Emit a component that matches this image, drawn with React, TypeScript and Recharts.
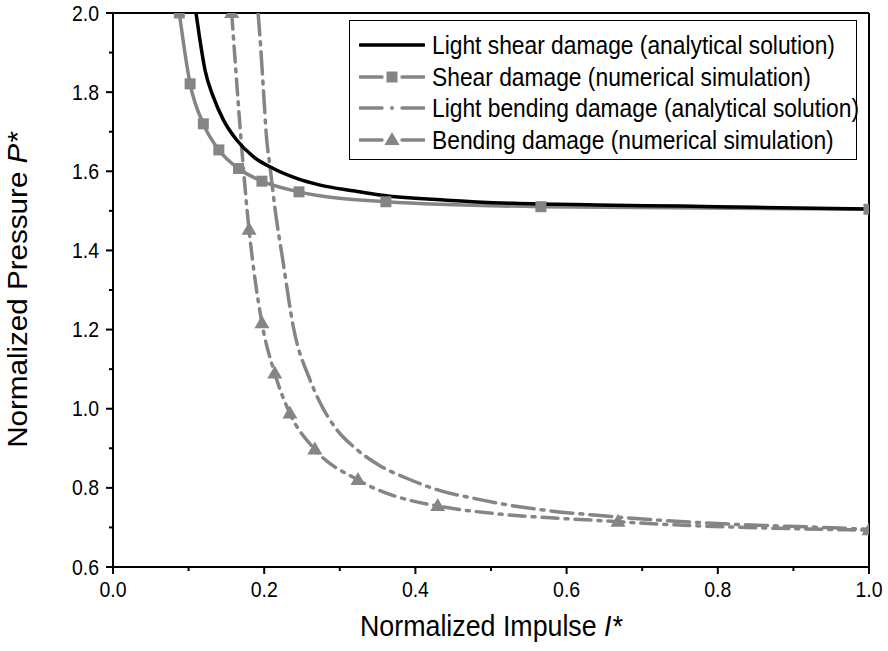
import React from 'react';
import { LineChart, Line, XAxis, YAxis, ReferenceLine } from 'recharts';

// ---- data ----
const shearAnalyticalI = [0.1098, 0.115, 0.1217, 0.1327, 0.146, 0.1636, 0.1856, 0.212, 0.243, 0.274, 0.32, 0.353, 0.441, 0.53, 0.64, 0.75, 0.85, 1.0];
const shearAnalyticalP = [2.0, 1.932, 1.856, 1.788, 1.73, 1.679, 1.637, 1.607, 1.582, 1.565, 1.55, 1.54, 1.527, 1.519, 1.515, 1.512, 1.509, 1.505];

const shearNumericalI = [0.0877, 0.102, 0.1195, 0.14, 0.166, 0.197, 0.246, 0.361, 0.566, 1.0];
const shearNumericalP = [2.0, 1.821, 1.72, 1.654, 1.607, 1.575, 1.548, 1.523, 1.5105, 1.504];

const bendingAnalyticalI = [0.192, 0.195, 0.199, 0.203, 0.2077, 0.214, 0.2253, 0.2385, 0.2606, 0.274, 0.296, 0.32, 0.353, 0.39, 0.4325, 0.476, 0.525, 0.578, 0.644, 0.71, 0.82, 0.952, 1.0];
const bendingAnalyticalP = [2.0, 1.923, 1.805, 1.687, 1.612, 1.51, 1.367, 1.207, 1.073, 1.015, 0.947, 0.901, 0.856, 0.823, 0.793, 0.774, 0.756, 0.742, 0.73, 0.72, 0.708, 0.699, 0.695];

const bendingNumericalI = [0.157, 0.18, 0.197, 0.214, 0.234, 0.267, 0.324, 0.4295, 0.668, 1.0];
const bendingNumericalP = [2.0, 1.452, 1.216, 1.089, 0.988, 0.897, 0.82, 0.754, 0.7144, 0.693];

const xTicks = [0, 0.1, 0.2, 0.3, 0.4, 0.5, 0.6, 0.7, 0.8, 0.9, 1.0];
const yTicks = [0.6, 0.7, 0.8, 0.9, 1.0, 1.1, 1.2, 1.3, 1.4, 1.5, 1.6, 1.7, 1.8, 1.9, 2.0];

const legendLabels = [
  'Light shear damage (analytical solution)',
  'Shear damage (numerical simulation)',
  'Light bending damage (analytical solution)',
  'Bending damage (numerical simulation)',
];

const xTitle = 'Normalized Impulse ';
const xTitleSym = 'I*';
const yTitle = 'Normalized Pressure ';
const yTitleSym = 'P*';

// ---- helpers ----
const toRows = (xs: number[], ys: number[]) => xs.map((I, i) => ({ I, P: ys[i] }));

const shearAnalytical = toRows(shearAnalyticalI, shearAnalyticalP);
const shearNumerical = toRows(shearNumericalI, shearNumericalP);
const bendingAnalytical = toRows(bendingAnalyticalI, bendingAnalyticalP);
const bendingNumerical = toRows(bendingNumericalI, bendingNumericalP);

const FONT = '"Liberation Sans", Arial, sans-serif';
const GRAY = '#858585';
const DASHDOT = '22 7 3 7';
const SX = 0.905; // horizontal condensing of the reference's lettering

const isMajor = (v: number) => Math.round(v * 10) % 2 === 0;

const XTick = (props: any) => {
  const { x, y, payload } = props;
  const v = payload.value as number;
  const major = isMajor(v);
  return (
    <g>
      <line x1={x} x2={x} y1={y} y2={y + (major ? 7 : 4)} stroke="#000" strokeWidth={2} />
      {major && (
        <text transform={`translate(${x} ${y + 22}) scale(${SX} 1)`} dy="0.35em" textAnchor="middle" fontSize={21.5} fontFamily={FONT} fill="#000">
          {v.toFixed(1)}
        </text>
      )}
    </g>
  );
};

const YTick = (props: any) => {
  const { x, y, payload } = props;
  const v = payload.value as number;
  const major = isMajor(v);
  return (
    <g>
      <line x1={x} x2={x - (major ? 7 : 4)} y1={y} y2={y} stroke="#000" strokeWidth={2} />
      {major && (
        <text transform={`translate(${x - 14} ${y}) scale(${SX} 1)`} dy="0.35em" textAnchor="end" fontSize={21.5} fontFamily={FONT} fill="#000">
          {v.toFixed(1)}
        </text>
      )}
    </g>
  );
};

const Square = (props: any) => {
  const { cx, cy } = props;
  if (cx == null || cy == null) return null;
  return <rect x={cx - 5.5} y={cy - 5.5} width={11} height={11} fill={GRAY} />;
};

const Triangle = (props: any) => {
  const { cx, cy } = props;
  if (cx == null || cy == null) return null;
  return <polygon points={`${cx},${cy - 8} ${cx - 7.5},${cy + 5} ${cx + 7.5},${cy + 5}`} fill={GRAY} />;
};

const LegendSample = ({ idx }: { idx: number }) => {
  const w = 66;
  const h = 20;
  const m = h / 2;
  if (idx === 0) {
    return (
      <svg width={w} height={h}><line x1={1} x2={w - 1} y1={m} y2={m} stroke="#000" strokeWidth={3.5} strokeLinecap="round" /></svg>
    );
  }
  const left = <line x1={1} x2={23} y1={m} y2={m} stroke={GRAY} strokeWidth={3.5} strokeLinecap="round" />;
  const right = <line x1={43} x2={w - 1} y1={m} y2={m} stroke={GRAY} strokeWidth={3.5} strokeLinecap="round" />;
  let mid: React.ReactNode = null;
  if (idx === 1) mid = <rect x={w / 2 - 5.5} y={m - 5.5} width={11} height={11} fill={GRAY} />;
  else if (idx === 2) mid = <circle cx={w / 2} cy={m} r={2} fill={GRAY} />;
  else mid = <polygon points={`${w / 2},${m - 8} ${w / 2 - 7.5},${m + 5} ${w / 2 + 7.5},${m + 5}`} fill={GRAY} />;
  return (
    <svg width={w} height={h}>
      {left}
      {mid}
      {right}
    </svg>
  );
};

export default function App() {
  return (
    <div style={{ position: 'absolute', left: 0, top: 0, width: 888, height: 651, background: '#fff' }}>
      <LineChart width={888} height={651} margin={{ top: 13, right: 19, bottom: 0, left: 0 }}>
        <XAxis
          type="number"
          dataKey="I"
          domain={[0, 1]}
          ticks={xTicks}
          interval={0}
          tick={<XTick />}
          tickLine={false}
          tickSize={0}
          tickMargin={0}
          height={84}
          axisLine={{ stroke: '#000', strokeWidth: 2 }}
          allowDataOverflow
        />
        <YAxis
          type="number"
          dataKey="P"
          domain={[0.6, 2.0]}
          ticks={yTicks}
          interval={0}
          tick={<YTick />}
          tickLine={false}
          tickSize={0}
          tickMargin={0}
          width={113}
          axisLine={{ stroke: '#000', strokeWidth: 2 }}
          allowDataOverflow
        />
        <ReferenceLine y={2.0} stroke="#000" strokeWidth={2} />
        <ReferenceLine x={1.0} stroke="#000" strokeWidth={2} />
        <Line data={bendingAnalytical} dataKey="P" type="monotone" stroke={GRAY} strokeWidth={3.5} strokeDasharray={DASHDOT} strokeLinecap="round" dot={false} isAnimationActive={false} />
        <Line data={bendingNumerical} dataKey="P" type="monotone" stroke={GRAY} strokeWidth={3.5} strokeDasharray="16 7 3 7" strokeLinecap="round" dot={<Triangle />} isAnimationActive={false} />
        <Line data={shearNumerical} dataKey="P" type="monotone" stroke={GRAY} strokeWidth={3.5} dot={<Square />} isAnimationActive={false} />
        <Line data={shearAnalytical} dataKey="P" type="monotone" stroke="#000" strokeWidth={3.5} dot={false} isAnimationActive={false} />
        <text transform={`translate(491 626) scale(${SX} 1)`} dy="0.35em" textAnchor="middle" fontSize={29.6} fontFamily={FONT} fill="#000">
          {xTitle}<tspan fontStyle="italic">{xTitleSym}</tspan>
        </text>
        <text transform={`translate(18 290) rotate(-90) scale(1 ${SX})`} dy="0.35em" textAnchor="middle" fontSize={29.6} fontFamily={FONT} fill="#000">
          {yTitle}<tspan fontStyle="italic">{yTitleSym}</tspan>
        </text>
      </LineChart>
      <div
        style={{
          position: 'absolute',
          left: 349,
          top: 20,
          width: 508,
          height: 140,
          boxSizing: 'border-box',
          border: '1.5px solid #000',
          background: '#fff',
          fontFamily: FONT,
          fontSize: 25.2,
          color: '#000',
        }}
      >
        {legendLabels.map((lab, i) => (
          <div key={i} style={{ position: 'absolute', left: 9, top: 13 + i * 31.5, height: 22, display: 'flex', alignItems: 'center', whiteSpace: 'nowrap' }}>
            <LegendSample idx={i} />
            <span style={{ marginLeft: 7, display: 'inline-block', transform: `scaleX(${SX})`, transformOrigin: 'left center', lineHeight: '22px' }}>{lab}</span>
          </div>
        ))}
      </div>
    </div>
  );
}
